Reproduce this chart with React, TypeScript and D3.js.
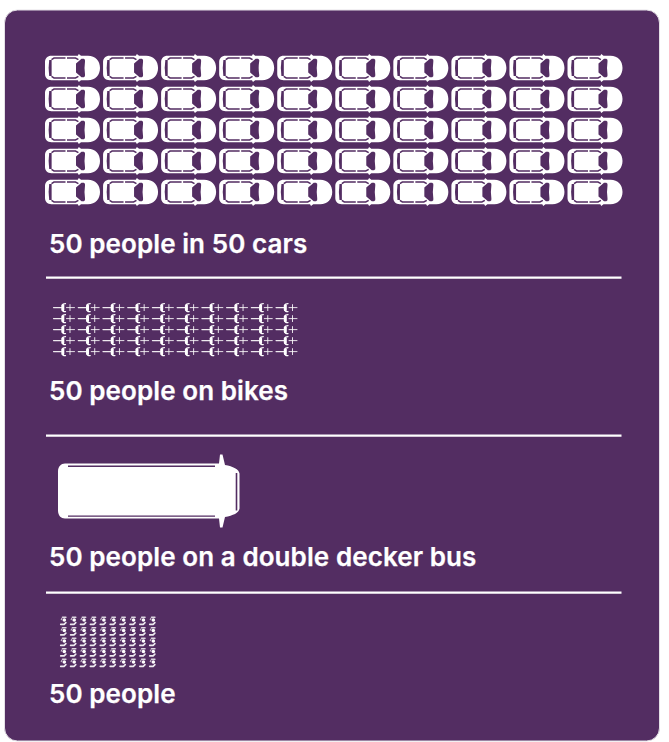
import React from "react";
import * as d3 from "d3";

const WIDTH = 669;
const HEIGHT = 742;
const PURPLE = "#532d62";

const labels = ["50 people in 50 cars", "50 people on bikes", "50 people on a double decker bus", "50 people"];
const cars = d3.range(50);
const bikes = d3.range(50);
const buses = d3.range(1);
const people = d3.range(50);
const dividerYs = [277.6, 435.6, 592.6];
const labelYs = [253, 400, 566, 703];

const colsOf = 10;
const carX = d3.scaleLinear().domain([0, 9]).range([45, 567.5]);
const carY = d3.scaleLinear().domain([0, 4]).range([55, 179]);
const bikeX = d3.scaleLinear().domain([0, 9]).range([53, 275.5]);
const bikeY = d3.scaleLinear().domain([0, 4]).range([307.6, 351.6]);
const personX = d3.scaleLinear().domain([0, 9]).range([59.5, 148.5]);
const personY = d3.scaleLinear().domain([0, 4]).range([616, 658]);

function Car({ x, y }: { x: number; y: number }) {
  return (
    <g transform={`translate(${x},${y})`}>
      <path fill="#fff" d="M6.5 0.8H32.8L33.8 -1L36 0.8H43C50.5 0.8 55 6 55 13S50.5 25.2 43 25.2H36L33.8 27L32.8 25.2H6.5C2.5 25.2 0 22.5 0 19V7C0 3.5 2.5 0.8 6.5 0.8Z" />
      <path fill={PURPLE} d="M31 8.6L36.5 3.8H38.8Q40.5 4.4 40 6.5Q39 13 40 19.5Q40.5 21.6 38.8 22.2H36.5L31 17.4Z" />
      <path fill={PURPLE} d="M4.2 5H6.6V21H4.2Q3 13 4.2 5Z" />
      <path fill="none" stroke={PURPLE} strokeWidth={1.5} d="M6.5 4.6L9 3.1H20.5M22 3.1H30.5L33.4 4.6M6.5 21.4L9 22.9H20.5M22 22.9H30.5L33.4 21.4" />
    </g>
  );
}

function Bike({ x, y }: { x: number; y: number }) {
  return (
    <g transform={`translate(${x},${y})`} fill="none" stroke="#fff" strokeLinecap="round">
      <path strokeWidth={1.1} opacity={0.9} d="M0.5 0H8.5" />
      <path strokeWidth={3} d="M9.8 -2.2V2.2" />
      <path strokeWidth={1.3} d="M12.5 -4Q9.8 -4 9.8 -2.8M12.5 4Q9.8 4 9.8 2.8" />
      <path strokeWidth={1} opacity={0.85} d="M13.5 0H21.5M17 -3V3" />
    </g>
  );
}

function Bus({ x, y }: { x: number; y: number }) {
  return (
    <g transform={`translate(${x},${y})`}>
      <path fill="#fff" d="M7 0H161L162 -9L164.5 -9L167 1.5C175 3 181 5.5 181.5 10V45C181 49.5 175 52 167 53.5L164.5 64L162 64L161 55H7C3 55 0 52 0 47V8C0 3 3 0 7 0Z" />
      <path fill="none" stroke={PURPLE} strokeWidth={1.4} d="M10 2.8H157M10 52.6H157" />
      <path fill="none" stroke={PURPLE} strokeWidth={1.6} d="M178.5 9.5V47" />
    </g>
  );
}

function Person({ x, y }: { x: number; y: number }) {
  return (
    <g transform={`translate(${x},${y})`} fill="none" stroke="#fff" strokeLinecap="round">
      <path strokeWidth={1.6} opacity={0.8} d="M3 1.3H6.4" />
      <circle cx={4.8} cy={4} r={1.8} fill="#fff" stroke="none" />
      <path strokeWidth={1.2} opacity={0.7} d="M1.8 3.6L2.3 2.6" />
      <path strokeWidth={1.6} opacity={0.9} d="M1.2 8.4H4.6L6.4 6.6" />
    </g>
  );
}

export default function App() {
  return (
    <svg
      width={WIDTH}
      height={HEIGHT}
      viewBox={`0 0 ${WIDTH} ${HEIGHT}`}
      style={{ position: "absolute", left: 0, top: 0, background: "#fff" }}
    >
      <rect x={4.5} y={10} width={655} height={731} rx={13} fill={PURPLE} stroke="#e4e0e6" strokeWidth={1} />
      {cars.map((d) => (
        <Car key={d} x={carX(d % colsOf)} y={carY(Math.floor(d / colsOf))} />
      ))}
      {bikes.map((d) => (
        <Bike key={d} x={bikeX(d % colsOf)} y={bikeY(Math.floor(d / colsOf))} />
      ))}
      {buses.map((d) => (
        <Bus key={d} x={58} y={463.5} />
      ))}
      {people.map((d) => (
        <Person key={d} x={personX(d % colsOf)} y={personY(Math.floor(d / colsOf))} />
      ))}
      {dividerYs.map((y) => (
        <line key={y} x1={46} x2={621.5} y1={y} y2={y} stroke="#fff" strokeWidth={2.4} />
      ))}
      {labels.map((t, i) => (
        <text key={t} x={49} y={labelYs[i]} fill="#fff" stroke="#fff" strokeWidth={0.25} fontFamily="Inter" fontWeight={600} fontSize={26} letterSpacing={0.08}>
          {t}
        </text>
      ))}
    </svg>
  );
}
